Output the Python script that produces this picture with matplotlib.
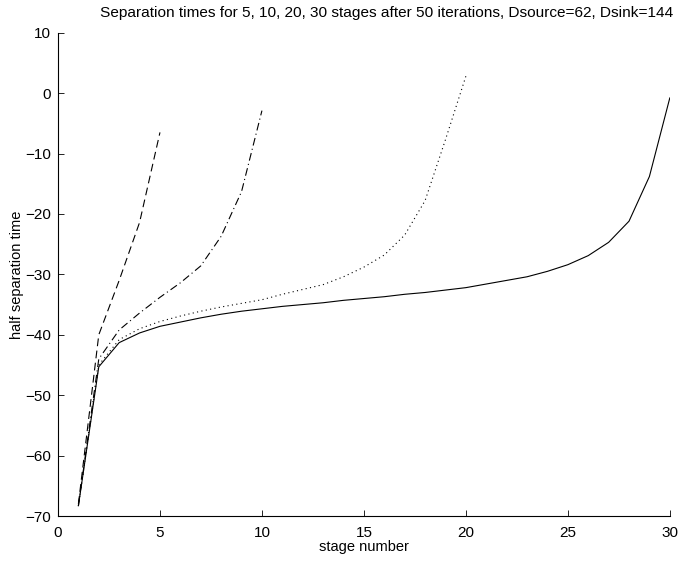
import numpy as np
import matplotlib
matplotlib.use("Agg")
import matplotlib.pyplot as plt

plt.rcParams['font.family'] = ['Liberation Sans', 'DejaVu Sans']

# valeurs
stages5 = [1, 2, 3, 4, 5]
times5 = [-68.0, -40.0, -31.0, -21.4, -6.5]

stages10 = list(range(1, 11))
times10 = [-68.3, -44.0, -39.2, -36.4, -33.8, -31.4, -28.6, -23.7, -16.3, -2.9]

stages20 = list(range(1, 21))
times20 = [-68.3, -45.0, -40.8, -39.0, -37.8, -36.9, -36.1, -35.4, -34.8, -34.2,
           -33.3, -32.5, -31.7, -30.4, -28.8, -26.8, -23.5, -17.8, -7.7, 2.8]

stages30 = list(range(1, 31))
times30 = [-68.3, -45.3, -41.3, -39.7, -38.6, -37.9, -37.2, -36.6, -36.1, -35.7,
           -35.3, -35.0, -34.7, -34.3, -34.0, -33.7, -33.3, -33.0, -32.6, -32.2,
           -31.6, -31.0, -30.4, -29.5, -28.4, -26.9, -24.7, -21.2, -13.8, -0.8]

xticks = [0, 5, 10, 15, 20, 25, 30]
yticks = [10, 0, -10, -20, -30, -40, -50, -60, -70]

fig = plt.figure(figsize=(6.8, 5.61), dpi=100)
ax = fig.add_axes([0.0853, 0.0802, 0.8997, 0.8615])

lw = 0.8
ax.plot(stages5, times5, color='black', lw=lw, linestyle=(0, (7, 4)))
ax.plot(stages10, times10, color='black', lw=lw, linestyle=(0, (7, 3, 1, 3)))
ax.plot(stages20, times20, color='black', lw=lw, linestyle=(0, (1, 3)))
ax.plot(stages30, times30, color='black', lw=lw, linestyle='-')

ax.set_xlim(0, 30)
ax.set_ylim(-70, 10)
ax.set_xticks(xticks)
ax.set_yticks(yticks)
ax.tick_params(direction='in', length=4, width=0.6, labelsize=11)
ax.tick_params(axis='x', pad=7)
ax.tick_params(axis='y', pad=5)
for side in ['top', 'right']:
    ax.spines[side].set_visible(False)
for side in ['left', 'bottom']:
    ax.spines[side].set_linewidth(0.8)

ax.set_xlabel("stage number", fontsize=10.5, labelpad=0)
ax.set_ylabel("half separation time", fontsize=10.5, labelpad=1)
fig.text(387 / 680, 1 - 13 / 561,
         "Separation times for 5, 10, 20, 30 stages after 50 iterations, Dsource=62, Dsink=144",
         ha='center', va='center', fontsize=11.1)

fig.savefig("out.png", dpi=100)
